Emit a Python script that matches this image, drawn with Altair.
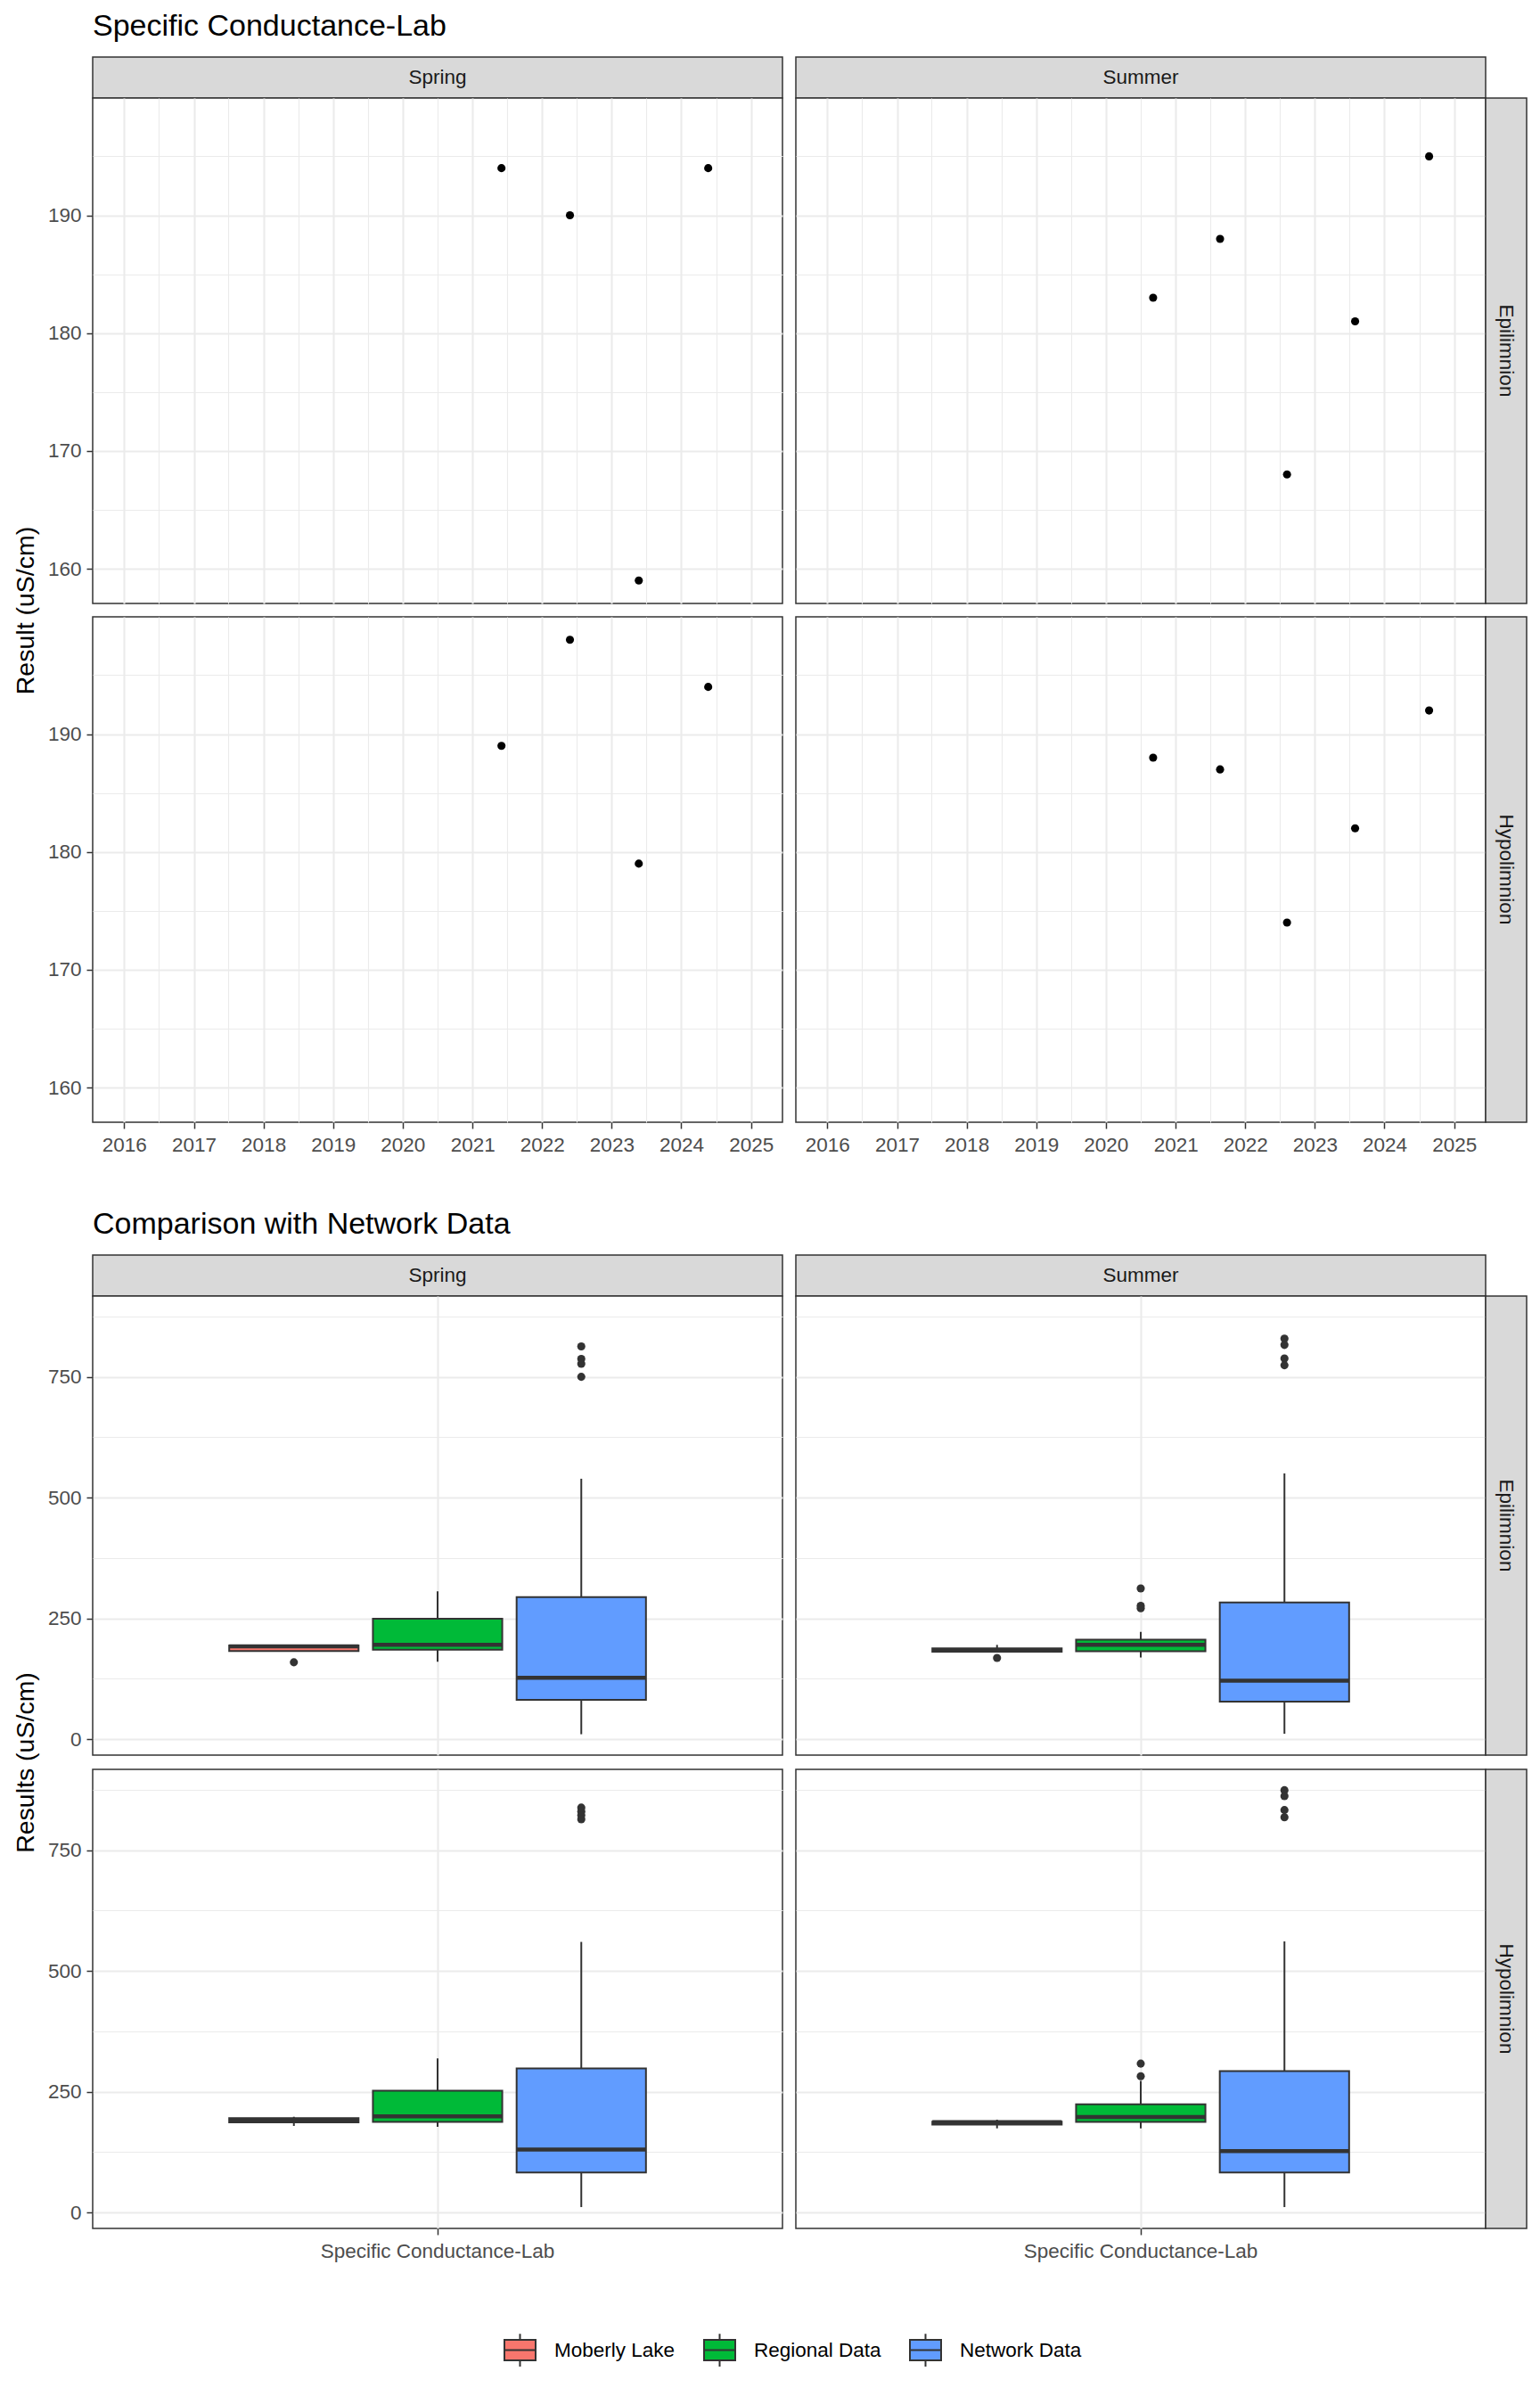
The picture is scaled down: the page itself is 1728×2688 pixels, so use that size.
import altair as alt
import pandas as pd

FONT = "Liberation Sans"
DARK = "#333333"
GRID = "#EBEBEB"
STRIPFILL = "#D9D9D9"

seasons = ["Spring", "Summer"]
layers = ["Epilimnion", "Hypolimnion"]
groups = ["Moberly Lake", "Regional Data", "Network Data"]
group_colors = ["#F8766D", "#00BA38", "#619CFF"]
parameter = "Specific Conductance-Lab"

# ---------------- top chart: lake measurements ----------------
pt_season = ["Spring"] * 8 + ["Summer"] * 10
pt_layer = (["Epilimnion"] * 4 + ["Hypolimnion"] * 4
            + ["Epilimnion"] * 5 + ["Hypolimnion"] * 5)
pt_date = ["2021-06-02", "2022-05-27", "2023-05-23", "2024-05-21",
           "2021-06-02", "2022-05-27", "2023-05-23", "2024-05-21",
           "2020-09-05", "2021-08-22", "2022-08-08", "2023-07-31", "2024-08-22",
           "2020-09-05", "2021-08-22", "2022-08-08", "2023-07-31", "2024-08-22"]
pt_value = [194, 190, 159, 194,
            189, 198, 179, 194,
            183, 188, 168, 181, 195,
            188, 187, 174, 182, 192]

# ---------------- bottom chart: box statistics ----------------
bx_season = ["Spring"] * 6 + ["Summer"] * 6
bx_layer = (["Epilimnion"] * 3 + ["Hypolimnion"] * 3) * 2
bx_group = groups * 4
bx_lower = [190, 160, 10, 179, 177, 11, 181, 169, 11, 174, 174, 11]
bx_q1 = [182.25, 185, 81, 186.5, 187.5, 82.5, 181, 182, 77.5, 182, 187.5, 82.5]
bx_median = [192, 195, 127, 191.5, 199, 130, 183, 195, 121, 187, 197.5, 127]
bx_q3 = [194, 249, 294, 195, 252, 298, 188, 206, 283, 188, 224, 292.5]
bx_upper = [194, 306, 539, 198, 319, 560, 195, 222, 550, 192, 272, 561]

ol_season = ["Spring"] * 9 + ["Summer"] * 14
ol_layer = (["Epilimnion"] * 5 + ["Hypolimnion"] * 4
            + ["Epilimnion"] * 8 + ["Hypolimnion"] * 6)
ol_group = (["Moberly Lake"] + ["Network Data"] * 4
            + ["Network Data"] * 4
            + ["Moberly Lake"] + ["Regional Data"] * 3 + ["Network Data"] * 4
            + ["Regional Data"] * 2 + ["Network Data"] * 4)
ol_value = [159, 813, 787, 777, 750,
            838, 830, 822, 814,
            168, 312, 276, 271, 829, 816, 788, 774,
            308, 282, 874, 862, 833, 818]

pt_df = pd.DataFrame({"season": pt_season, "layer": pt_layer,
                      "date": pt_date, "value": pt_value})
bx_df = pd.DataFrame({"season": bx_season, "layer": bx_layer, "group": bx_group,
                      "lower": bx_lower, "q1": bx_q1, "median": bx_median,
                      "q3": bx_q3, "upper": bx_upper, "parameter": parameter})
ol_df = pd.DataFrame({"season": ol_season, "layer": ol_layer, "group": ol_group,
                      "value": ol_value, "parameter": parameter})

# ---------------- scales (ggplot-style 5% expansion) ----------------
tmin, tmax = min(pt_value), max(pt_value)
top_ydom = [tmin - 0.05 * (tmax - tmin), tmax + 0.05 * (tmax - tmin)]
ball = bx_lower + bx_upper + ol_value
bmin, bmax = min(ball), max(ball)
bot_ydom = [bmin - 0.05 * (bmax - bmin), bmax + 0.05 * (bmax - bmin)]


def ms(ts):
    return int(ts.timestamp() * 1000)


x_start = pd.Timestamp("2016-01-01", tz="UTC")
x_end = pd.Timestamp("2025-01-01", tz="UTC")
span = x_end - x_start
x_dom = [ms(x_start - 0.05 * span), ms(x_end + 0.05 * span)]
x_vals = sorted([ms(pd.Timestamp(f"{y}-01-01", tz="UTC")) for y in range(2016, 2026)]
                + [ms(pd.Timestamp(f"{y}-07-02", tz="UTC")) for y in range(2016, 2025)])

# ---------------- layout sizes ----------------
LEFT = 95
PW = 774
GAP = 15
STRIP = 46
TOPM = 54.5
PH_T = 567
PH_B = 515
GAP_B = 16
SEC_GAP = 149
BOTM = 182

VIEW = alt.ViewBackground(fill="white", stroke=DARK, strokeWidth=1.5)
SVIEW = alt.ViewBackground(fill=STRIPFILL, stroke=DARK, strokeWidth=1.5)
NOVIEW = alt.ViewBackground(fill="transparent", stroke="transparent")


def cond(test, a, b):
    return {"condition": {"test": test, "value": a}, "value": b}


XMAJ = "utcmonth(datum.value) === 0"


def top_x_axis(show):
    return alt.Axis(values=x_vals, labels=show, ticks=show, domain=False, title=None,
                    grid=True, labelOverlap=False, labelFlush=False,
                    labelExpr=f"{XMAJ} ? utcFormat(datum.value, '%Y') : ''",
                    gridWidth=cond(XMAJ, 2.1, 1.1), tickOpacity=cond(XMAJ, 1, 0),
                    labelPadding=7)


def y_axis(vals, major, show, title, title_y):
    kw = dict(title=None)
    if title:
        kw = dict(title=title, titleX=-76, titleY=title_y, titleAngle=270,
                  titleAlign="center", titleBaseline="middle")
    test = f"datum.value % {major} === 0"
    return alt.Axis(values=vals, labels=show, ticks=show, domain=False, grid=True,
                    labelOverlap=False, labelFlush=False,
                    labelExpr=f"{test} ? datum.label : ''",
                    gridWidth=cond(test, 2.1, 1.1), tickOpacity=cond(test, 1, 0),
                    labelPadding=6, **kw)


def spacer(w, h):
    return alt.Chart(pd.DataFrame({"s": [0]})).mark_point(opacity=0).properties(
        width=w, height=h, view=NOVIEW)


def strip(label, w, h, angle=0, title=None):
    props = dict(width=w, height=h, view=SVIEW)
    if title:
        props["title"] = alt.TitleParams(title, anchor="start", frame="group",
                                         baseline="alphabetic", offset=-10,
                                         fontSize=34, font=FONT, color="black",
                                         fontWeight="normal")
    return alt.Chart(pd.DataFrame({"lab": [label]})).mark_text(
        font=FONT, fontSize=22.5, color="#1A1A1A", angle=angle
    ).encode(
        x=alt.X("lab:N", axis=None),
        y=alt.Y("lab:N", axis=None),
        text="lab:N",
    ).properties(**props)


def top_panel(season, layer, show_x, show_y, ytitle=None):
    return alt.Chart(pt_df).transform_filter(
        (alt.datum.season == season) & (alt.datum.layer == layer)
    ).mark_circle(size=83, color="black", opacity=1).encode(
        x=alt.X("date:T", scale=alt.Scale(type="utc", domain=x_dom), axis=top_x_axis(show_x)),
        y=alt.Y("value:Q", scale=alt.Scale(domain=top_ydom, zero=False, nice=False),
                axis=y_axis([160, 165, 170, 175, 180, 185, 190, 195], 10, show_y,
                            ytitle, (2 * PH_T + GAP) / 2)),
    ).properties(width=PW, height=PH_T, view=VIEW)


LEG = alt.Legend(
    title=None, orient="none", legendX=556, legendY=2609, direction="horizontal",
    symbolType="M-1,-0.66H1V0.66H-1Z M-1,0H1 M0,-0.66V-1.05 M0,0.66V1.05",
    symbolSize=1225, symbolStrokeColor=DARK, symbolStrokeWidth=2,
    labelFont=FONT, labelFontSize=22.5, labelColor="black", labelOffset=20,
    columnPadding=28, padding=0, labelLimit=1000,
)


def bot_panel(season, layer, show_x, show_y, ytitle=None):
    sel = (alt.datum.season == season) & (alt.datum.layer == layer)
    X = alt.X("parameter:N", scale=alt.Scale(paddingInner=0, paddingOuter=0.1),
              axis=alt.Axis(labels=show_x, ticks=show_x, domain=False, title=None,
                            grid=True, gridWidth=2.1, labelAngle=0, bandPosition=0.5,
                            labelPadding=7, labelLimit=1000))
    XO = alt.XOffset("group:N", sort=groups,
                     scale=alt.Scale(domain=groups, paddingInner=0.1, paddingOuter=0.55))
    yax = y_axis([0, 125, 250, 375, 500, 625, 750, 875], 250, show_y, ytitle,
                 (2 * PH_B + GAP_B) / 2)

    def Y(f):
        return alt.Y(f"{f}:Q", scale=alt.Scale(domain=bot_ydom, zero=False, nice=False), axis=yax)

    base = alt.Chart(bx_df).transform_filter(sel)
    lo = base.mark_rule(color=DARK, strokeWidth=2).encode(x=X, xOffset=XO, y=Y("lower"), y2="q1:Q")
    hi = base.mark_rule(color=DARK, strokeWidth=2).encode(x=X, xOffset=XO, y=Y("q3"), y2="upper:Q")
    box = base.mark_bar(stroke=DARK, strokeWidth=2, opacity=1).encode(
        x=X, xOffset=XO, y=Y("q1"), y2="q3:Q",
        fill=alt.Fill("group:N", scale=alt.Scale(domain=groups, range=group_colors), legend=LEG))
    med = base.mark_bar(fillOpacity=0, stroke=DARK, strokeWidth=4.5).encode(
        x=X, xOffset=XO, y=Y("median"), y2="median:Q")
    out = alt.Chart(ol_df).transform_filter(sel).mark_circle(
        size=83, color=DARK, opacity=1).encode(x=X, xOffset=XO, y=Y("value"))
    return alt.layer(lo, hi, box, med, out).properties(width=PW, height=PH_B, view=VIEW)


cells = []


def add_row(items):
    cells.extend(items)


def blank_row(h):
    add_row([spacer(LEFT, h), spacer(PW, h), spacer(GAP, h), spacer(PW, h), spacer(STRIP, h)])


def section(panel_fn, title, ytitle, ph, gap):
    add_row([spacer(LEFT, STRIP), strip(seasons[0], PW, STRIP, title=title),
             spacer(GAP, STRIP), strip(seasons[1], PW, STRIP), spacer(STRIP, STRIP)])
    for i, layer in enumerate(layers):
        last = i == len(layers) - 1
        add_row([spacer(LEFT, ph),
                 panel_fn(seasons[0], layer, last, True, ytitle if i == 0 else None),
                 spacer(GAP, ph),
                 panel_fn(seasons[1], layer, last, False),
                 strip(layer, STRIP, ph, angle=90)])
        if not last:
            blank_row(gap)


blank_row(TOPM)
section(top_panel, "Specific Conductance-Lab", "Result (uS/cm)", PH_T, GAP)
blank_row(SEC_GAP)
section(bot_panel, "Comparison with Network Data", "Results (uS/cm)", PH_B, GAP_B)
blank_row(BOTM)

chart = alt.concat(*cells, columns=5, spacing=0, bounds="flush").properties(
    padding=0
).configure(font=FONT).configure_view(stroke="transparent").configure_axis(
    labelFont=FONT, labelFontSize=22.5, labelColor="#4D4D4D", tickColor=DARK,
    tickWidth=1.5, tickSize=7, gridColor=GRID, titleFont=FONT, titleFontSize=28.5,
    titleColor="black", titleFontWeight="normal"
).configure_title(font=FONT, fontSize=34, fontWeight="normal", color="black")

chart.save("out.html", embed_options={"renderer": "svg", "actions": False})
